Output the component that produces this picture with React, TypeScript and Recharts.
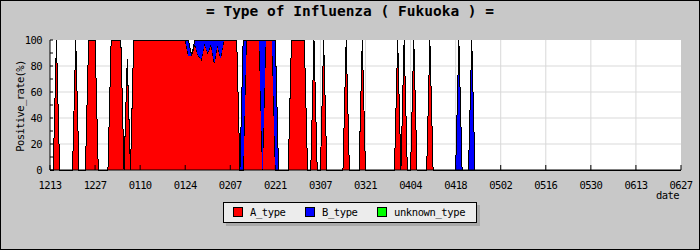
import { AreaChart, Area, XAxis, YAxis, CartesianGrid, Legend } from "recharts";

const TICK_LABELS = [
  "1213", "1227", "0110", "0124", "0207", "0221", "0307", "0321",
  "0404", "0418", "0502", "0516", "0530", "0613", "0627",
];
const DAYS_PER_TICK = 14;
const DAY_COUNT = 197; // 12/13 .. 6/27

// runs of days: [first day, last day, positive rate %], day 0 = 12/13
const A_TYPE_RUNS: [number, number, number][] = [
  [2, 2, 100], [8, 8, 100], [12, 14, 100], [19, 22, 100], [24, 24, 85],
  [26, 42, 100], [43, 44, 88], [45, 45, 97], [46, 46, 88], [47, 47, 85],
  [48, 48, 97], [49, 49, 90], [50, 50, 97], [51, 51, 82], [52, 52, 96],
  [53, 53, 86], [54, 58, 100], [61, 65, 100], [67, 69, 100], [75, 79, 100],
  [82, 82, 100], [85, 85, 100], [92, 92, 100], [97, 97, 100],
  [108, 108, 100], [110, 110, 100], [113, 113, 100], [118, 118, 100],
];
const B_TYPE_RUNS: [number, number, number][] = [
  [43, 43, 12], [45, 45, 3], [46, 46, 12], [47, 47, 15], [48, 48, 3],
  [49, 49, 10], [50, 50, 3], [51, 51, 18], [52, 52, 4], [53, 53, 14],
  [60, 60, 100], [66, 66, 100], [70, 70, 100], [127, 127, 100], [131, 131, 100],
];
const UNKNOWN_TYPE_RUNS: [number, number, number][] = [];

const SERIES = [
  { key: "A_type", color: "#ff0000", runs: A_TYPE_RUNS },
  { key: "B_type", color: "#0000ff", runs: B_TYPE_RUNS },
  { key: "unknown_type", color: "#00ff00", runs: UNKNOWN_TYPE_RUNS },
];

const FONT = "'DejaVu Sans Mono', monospace";
const SMALL = { fontFamily: FONT, fontSize: 10.5, letterSpacing: -0.6 };

function valueOn(runs: [number, number, number][], day: number) {
  const run = runs.find(([a, b]) => day >= a && day <= b);
  return run ? run[2] : 0;
}

const data = Array.from({ length: DAY_COUNT }, (_, day) => {
  const row: Record<string, number> = { day };
  SERIES.forEach((s) => (row[s.key] = valueOn(s.runs, day)));
  return row;
});

const xTicks = TICK_LABELS.map((_, i) => i * DAYS_PER_TICK);
const yTicks = [0, 10, 20, 30, 40, 50, 60, 70, 80, 90, 100];

function LegendBox() {
  return (
    <div
      style={{
        position: "relative",
        width: 254,
        height: 21,
        boxSizing: "border-box",
        background: "#ececec",
        border: "1px solid #000",
        boxShadow: "3px 3px 0 #a9a9a9",
        fontFamily: FONT,
        fontSize: 10.5,
        letterSpacing: -0.4,
      }}
    >
      {SERIES.map((s, i) => (
        <div key={s.key} style={{ position: "absolute", left: 9 + i * 72, top: 4 }}>
          <span
            style={{
              position: "absolute",
              left: 0,
              top: 0,
              width: 10,
              height: 10,
              boxSizing: "border-box",
              background: s.color,
              border: "1px solid #000",
            }}
          />
          <span style={{ position: "absolute", left: 17, top: -1, whiteSpace: "nowrap", lineHeight: "12px" }}>
            {s.key}
          </span>
        </div>
      ))}
    </div>
  );
}

export default function App() {
  return (
    <div style={{ position: "absolute", left: 0, top: 0, width: 700, height: 250, background: "#c8c8c8" }}>
      <style>{".recharts-area path { shape-rendering: crispEdges; }"}</style>
      <div
        style={{
          position: "absolute",
          left: 0,
          top: 3,
          width: 700,
          textAlign: "center",
          fontFamily: FONT,
          fontWeight: "bold",
          fontSize: 14.5,
          whiteSpace: "pre",
        }}
      >
        = Type of Influenza ( Fukuoka ) =
      </div>
      <AreaChart
        width={700}
        height={250}
        data={data}
        margin={{ top: 40, right: 19, left: 0, bottom: 50 }}
        style={{ position: "absolute", left: 0, top: 0 }}
      >
        <CartesianGrid
          stroke="#d9d9d9"
          fill="#fff"
          fillOpacity={1}
          horizontalValues={[20, 40, 60, 80]}
          verticalValues={xTicks.slice(1, -1)}
        />
        <XAxis
          dataKey="day"
          type="number"
          domain={[0, DAY_COUNT - 1]}
          ticks={xTicks}
          interval={0}
          height={30}
          tickSize={-5}
          tickMargin={17}
          tickFormatter={(v: number) => TICK_LABELS[Math.round(v / DAYS_PER_TICK)]}
          axisLine={{ stroke: "#000" }}
          tickLine={{ stroke: "#000" }}
          tick={{ fill: "#000", ...SMALL }}
          label={{
            content: () => (
              <text x={679} y={199} textAnchor="end" fill="#000" style={SMALL}>
                date
              </text>
            ),
          }}
        />
        <YAxis
          type="number"
          domain={[0, 100]}
          ticks={yTicks}
          interval={0}
          width={50}
          tickSize={-3}
          tickMargin={11}
          tickFormatter={(v: number) => (v % 20 === 0 ? String(v) : "")}
          axisLine={{ stroke: "#000" }}
          tickLine={{ stroke: "#000" }}
          tick={{ fill: "#000", ...SMALL }}
          label={{
            content: () => (
              <text
                x={20}
                y={106}
                transform="rotate(-90 20 106)"
                textAnchor="middle"
                dominantBaseline="central"
                fill="#000"
                style={SMALL}
              >
                Positive_rate(%)
              </text>
            ),
          }}
        />
        {SERIES.map((s) => (
          <Area
            key={s.key}
            dataKey={s.key}
            type="linear"
            stackId="1"
            fill={s.color}
            fillOpacity={1}
            stroke="#000"
            strokeWidth={1}
            dot={false}
            activeDot={false}
            isAnimationActive={false}
          />
        ))}
        <Legend
          verticalAlign="middle"
          align="center"
          layout="horizontal"
          wrapperStyle={{ left: 223, top: 202, width: 254, height: 21 }}
          content={() => <LegendBox />}
        />
      </AreaChart>
      <div
        style={{
          position: "absolute",
          left: 0,
          top: 0,
          width: 700,
          height: 250,
          boxSizing: "border-box",
          border: "1px solid #000",
          pointerEvents: "none",
        }}
      />
    </div>
  );
}
